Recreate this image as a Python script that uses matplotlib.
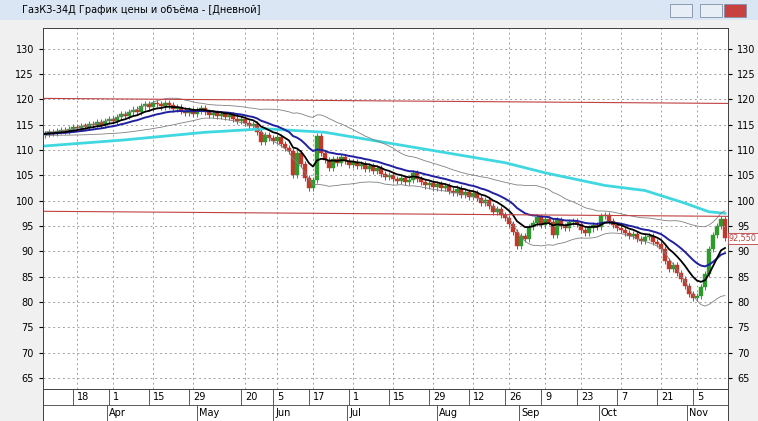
import numpy as np
import pandas as pd
import matplotlib
matplotlib.use("Agg")
import matplotlib.pyplot as plt
from matplotlib.patches import Rectangle

# daily closes (bar index 0..170)
CLOSES = [113.2, 113.5, 113.4, 113.8, 114.0, 113.7, 114.2, 114.5, 114.3,
          114.8, 114.6, 115.2, 114.9, 115.5, 115.0, 115.8, 116.2, 115.7,
          116.5, 117.2, 116.8, 117.6, 118.0, 117.5, 118.6, 119.0, 118.4, 119.2,
          119.0, 118.6, 119.3, 118.8, 118.2, 118.5, 117.8, 117.4, 117.9, 117.2,
          117.8, 118.3, 117.6, 117.0, 117.4, 116.8, 117.2, 116.5, 116.9, 116.2, 115.8, 116.1, 115.4,
          114.8, 115.2, 113.6, 111.5, 113.0, 112.4, 111.8, 112.6,
          111.2, 110.4, 109.8, 105.0, 109.5, 107.2, 104.5, 102.5, 104.0,
          112.8, 109.5, 108.0, 106.5, 108.2, 107.5, 108.6, 107.8, 107.0, 107.6,
          106.8, 107.3, 106.2, 106.9, 105.8, 106.4, 105.2, 104.6, 105.0, 104.2,
          103.8, 104.5, 103.6, 104.0, 105.5, 104.2, 103.6, 103.0, 103.4, 102.6,
          103.2, 102.5, 102.8, 102.0, 101.6, 102.4, 101.2, 101.8, 100.8, 101.5,
          100.6, 99.5, 100.2, 99.0, 97.8, 98.4, 97.2, 96.5, 95.4, 93.8, 91.0,
          93.0, 92.5, 94.8, 95.6, 96.8, 95.2, 96.4,
          95.8, 93.2, 96.2, 95.0, 94.6, 95.8, 96.0, 95.3, 94.2, 93.6,
          94.5, 95.1, 94.8, 96.9, 97.2, 96.0, 95.2, 94.6, 94.2,
          93.6, 93.0, 93.4, 92.5, 92.0, 92.8, 93.0, 91.8, 91.5, 90.5,
          88.0, 86.5, 87.2, 85.8, 84.6, 83.2, 81.5, 80.8,
          81.2, 83.0, 85.5, 90.5, 93.2, 95.0, 96.3, 92.55]
FIRST_OPEN = 113.0

# long moving average (cyan), sampled points
CYAN_X = [0, 20, 40, 55, 70, 85, 100, 115, 125, 140, 150, 160, 166, 170]
CYAN_Y = [110.8, 112.0, 113.5, 114.2, 113.5, 111.5, 109.5, 107.5, 105.5, 103.0, 102.0, 99.5, 97.8, 97.5]

# red horizontal levels (start, end)
LEVELS = [(120.2, 119.2), (97.9, 96.9)]

DAY_TICKS = [8, 17, 27, 37, 50, 58, 67, 77, 87, 97, 107, 116, 125, 134, 144, 154, 163]
DAY_LABELS = ["18", "1", "15", "29", "20", "5", "17", "1", "15", "29", "12", "26", "9", "23", "7", "21", "5"]
MONTH_TICKS = [16.5, 39, 58, 76.5, 99, 119.5, 139.5, 161.5]
MONTH_LABELS = ["Apr", "May", "Jun", "Jul", "Aug", "Sep", "Oct", "Nov"]

closes = np.array(CLOSES)
opens = np.concatenate([[FIRST_OPEN], closes[:-1]])
n = len(closes)
x = np.arange(n)

s = pd.Series(closes)
ema = s.ewm(span=9, adjust=False).mean()
mid = s.ewm(span=20, adjust=False).mean()
sd = s.rolling(20, min_periods=2).std().bfill().ewm(span=5).mean()
upper, lower = mid + 1.8 * sd, mid - 1.8 * sd

W, H = 758, 421
fig = plt.figure(figsize=(W / 100, H / 100), dpi=100)
fig.patch.set_facecolor("#f0f0f0")

# window title bar
fig.patches.append(Rectangle((0, 1 - 20 / H), 1, 20 / H, transform=fig.transFigure,
                             facecolor="#dbe6f4", edgecolor="none"))
fig.text(22 / W, 1 - 10 / H, "ГазКЗ-34Д График цены и объёма - [Дневной]",
         fontsize=7, va="center", ha="left", family="DejaVu Sans")
for bx in [670, 700, 724]:
    fig.patches.append(Rectangle((bx / W, 1 - 17 / H), 22 / W, 13 / H, transform=fig.transFigure,
                                 facecolor="#c84040" if bx == 724 else "#e8eef6",
                                 edgecolor="#8090a8", lw=0.6))

ax = fig.add_axes([43 / W, 1 - 389 / H, 685 / W, 361 / H])
ax.set_facecolor("white")
ax.set_xlim(-0.5, 170.75)
ax.set_ylim(62.8, 134.1)

for xi, o, c in zip(x, opens, closes):
    col = "#2e9a2e" if c >= o else "#c0392b"
    hi, lo = max(o, c) + 0.6, min(o, c) - 0.6
    ax.vlines(xi, lo, hi, color=col, lw=0.7)
    ax.add_patch(Rectangle((xi - 0.4, min(o, c)), 0.8, max(abs(c - o), 0.25),
                           facecolor=col, edgecolor=col, lw=0.3))

ax.plot(CYAN_X, CYAN_Y, color="#40d8e0", lw=2.0)
ax.plot(x, upper, color="#808080", lw=0.6)
ax.plot(x, lower, color="#808080", lw=0.6)
ax.plot(x, mid, color="#2020a0", lw=1.4)
ax.plot(x, ema, color="black", lw=1.3)
for a, b in LEVELS:
    ax.plot([-0.5, 170.75], [a, b], color="#c04040", lw=0.8)

ax.set_yticks(np.arange(65, 131, 5))
ax.set_xticks(DAY_TICKS)
ax.set_xticklabels([])
ax.grid(True, color="#a0a0a0", ls=(0, (2, 3)), lw=0.7)
ax.tick_params(axis="y", labelsize=7, length=3, labelright=True, right=True)
ax.tick_params(axis="x", length=0)
for sp in ax.spines.values():
    sp.set_color("#404040")
    sp.set_linewidth(0.7)

# last price tag
ax.text(171.0, closes[-1], "92,550", color="#c04040", fontsize=5.8, va="center", ha="left",
        bbox=dict(boxstyle="square,pad=0.1", fc="white", ec="#c04040", lw=0.6), clip_on=False)

# date axis
dax = fig.add_axes([43 / W, 0, 685 / W, 32 / H])
dax.set_xlim(-0.5, 170.75)
dax.set_ylim(0, 2)
dax.set_facecolor("white")
dax.set_xticks([]); dax.set_yticks([])
for sp in dax.spines.values():
    sp.set_color("#404040"); sp.set_linewidth(0.7)
dax.axhline(1, color="#404040", lw=0.6)
for t, lab in zip(DAY_TICKS, DAY_LABELS):
    dax.vlines(t - 1, 1, 2, color="#404040", lw=0.6)
    dax.text(t, 1.5, lab, fontsize=7, va="center", ha="left")
for t, lab in zip(MONTH_TICKS, MONTH_LABELS):
    dax.vlines(t - 1, 0, 1, color="#404040", lw=0.6)
    dax.text(t - 0.5, 0.5, lab, fontsize=7, va="center", ha="left")

fig.savefig("out.png", dpi=100, facecolor=fig.get_facecolor())
